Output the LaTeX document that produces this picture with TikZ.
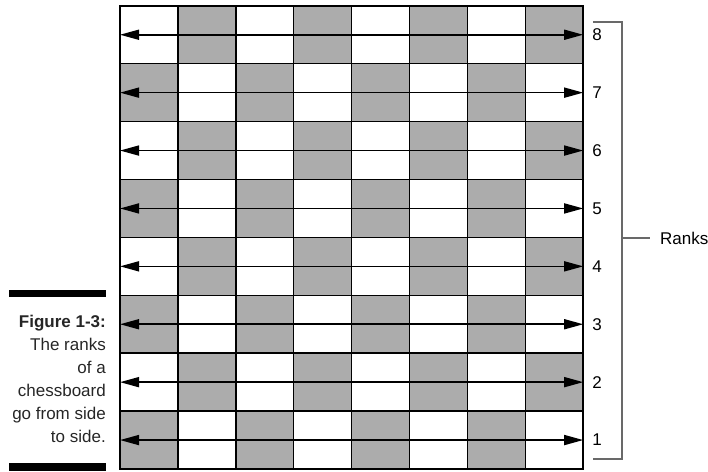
\documentclass[tikz,border=0pt]{standalone}
\usepackage{fontspec}
\setmainfont{Liberation Sans}
\usetikzlibrary{arrows.meta}
\definecolor{feldgrau}{RGB}{172,172,172}
\definecolor{klammergrau}{RGB}{105,105,105}

\begin{document}
\begin{tikzpicture}[x=1pt, y=1pt,
    reihe/.style={line width=1.6pt,
      {Triangle[length=19pt,width=10pt]}-{Triangle[length=19pt,width=10pt]}},
    ziffer/.style={font=\fontsize{17}{20}\selectfont, inner sep=0pt},
    klammer/.style={klammergrau, line width=1.5pt},
  ]
    % Parameter: Feldgroesse und Ursprung des Brettes
    \def\q{57.9}
    \def\xo{120}
    \def\yo{2}

    \useasboundingbox (0,0) rectangle (708,471);

    % ==========================================
    % SCHACHBRETT
    % ==========================================
    \begin{scope}[shift={(\xo,\yo)}]
        % Graue Felder (a1 dunkel)
        \foreach \f in {0,...,7}{
            \foreach \r in {0,...,7}{
                \pgfmathparse{int(mod(\f+\r,2))}
                \ifnum\pgfmathresult=0
                    \fill[feldgrau] (\f*\q,\r*\q) rectangle ++(\q,\q);
                \fi
            }
        }
        % Gitterlinien und Rand
        \foreach \i in {1,...,7}{
            \draw[line width=1.5pt] (\i*\q,0) -- (\i*\q,8*\q);
            \draw[line width=1.5pt] (0,\i*\q) -- (8*\q,\i*\q);
        }
        \draw[line width=1.6pt] (0,0) rectangle (8*\q,8*\q);

        % Reihen-Pfeile und Nummern
        \foreach \r in {1,...,8}{
            \coordinate (l\r) at (0,{(\r-0.5)*\q});
            \coordinate (r\r) at (8*\q,{(\r-0.5)*\q});
            \draw[reihe] (l\r) -- (r\r);
            \node[ziffer] (nr\r) at ([xshift=14pt]r\r) {\r};
        }
    \end{scope}

    % ==========================================
    % KLAMMER "Ranks"
    % ==========================================
    \coordinate (kOl) at (593,449);
    \coordinate (kOr) at (622,449);
    \coordinate (kUl) at (593,12);
    \coordinate (kUr) at (622,12);
    \coordinate (kM) at (622,233);
    \coordinate (kMr) at (650,233);
    \draw[klammer] (kOl) -- (kOr) -- (kUr) -- (kUl);
    \draw[klammer] (kM) -- (kMr);
    \node[ziffer, anchor=west, xshift=10pt] (ranks) at (kMr) {Ranks};

    % ==========================================
    % BILDUNTERSCHRIFT
    % ==========================================
    \fill (9,174) rectangle (106,181);
    \fill (9,0) rectangle (106,8);
    \node[anchor=north east, inner sep=0pt, align=right,
          font=\fontsize{17}{23}\selectfont, text=black!85] (caption) at (106,156)
        {\textbf{Figure 1-3:}\\The ranks\\of a\\chessboard\\go from side\\to side.};

\end{tikzpicture}
\end{document}
